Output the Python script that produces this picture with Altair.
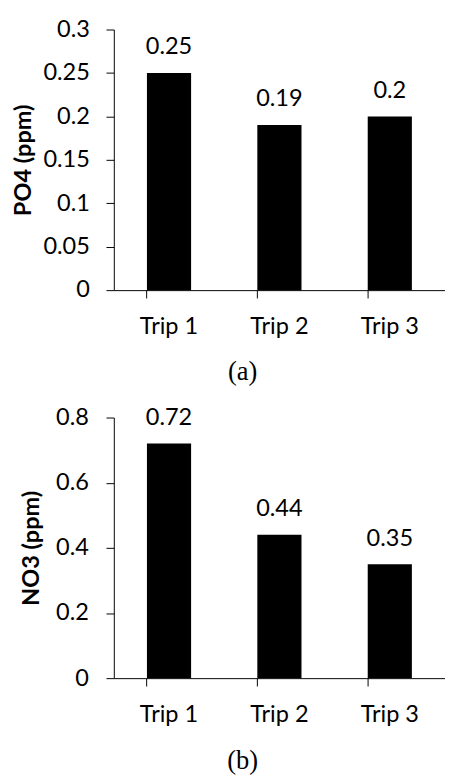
import altair as alt
import pandas as pd

trips = ["Trip 1", "Trip 2", "Trip 3"]
po4 = [0.25, 0.19, 0.2]
no3 = [0.72, 0.44, 0.35]
po4_ticks = [0, 0.05, 0.1, 0.15, 0.2, 0.25, 0.3]
no3_ticks = [0, 0.2, 0.4, 0.6, 0.8]
y_titles = ["PO4 (ppm)", "NO3 (ppm)"]
captions = ["(a)", "(b)"]

FONT = "Lato"
SIZE = 24


def panel(values, ticks, ytitle, caption, title_pad, label_pad, cap_y):
    df = pd.DataFrame({"trip": trips, "value": values})
    x = alt.X(
        "trip:N",
        sort=trips,
        scale=alt.Scale(paddingInner=0.6, paddingOuter=0.3),
        axis=alt.Axis(
            title=caption,
            titleFont="Liberation Serif",
            titleFontSize=27,
            titleFontWeight="normal",
            titleColor="black",
            titleX=131,
            titleY=cap_y,
            titleAlign="center",
            titleBaseline="middle",
            labelAngle=0,
            labelFont=FONT,
            labelFontSize=SIZE,
            labelColor="black",
            labelPadding=17,
            tickSize=8,
            bandPosition=0,
            tickColor="black",
            domainColor="black",
            grid=False,
        ),
    )
    y = alt.Y(
        "value:Q",
        scale=alt.Scale(domain=[ticks[0], ticks[-1]], nice=False),
        axis=alt.Axis(
            values=ticks,
            format="~g",
            title=ytitle,
            titleFont=FONT,
            titleFontSize=SIZE,
            titleFontWeight="bold",
            titleColor="black",
            titlePadding=title_pad,
            labelFont=FONT,
            labelFontSize=SIZE,
            labelColor="black",
            labelPadding=label_pad,
            labelFlush=False,
            tickSize=8,
            tickColor="black",
            domainColor="black",
            grid=False,
        ),
    )
    base = alt.Chart(df).encode(x=x, y=y)
    bars = base.mark_bar(color="black")
    labels = base.mark_text(
        dy=-19, baseline="alphabetic", font=FONT, fontSize=SIZE, color="black"
    ).encode(text=alt.Text("value:Q", format="~g"))
    return (bars + labels).properties(width=338, height=266)


a = panel(po4, po4_ticks, y_titles[0], captions[0], 8, 17, 83)
b = panel(no3, no3_ticks, y_titles[1], captions[1], 12, 18, 84)

chart = (
    alt.vconcat(a, b, spacing=130, bounds="flush")
    .properties(padding={"left": 3, "top": 2, "right": 0, "bottom": 0})
    .configure_view(stroke=None)
)

chart.save("out.html", embed_options={"renderer": "svg", "actions": False})
